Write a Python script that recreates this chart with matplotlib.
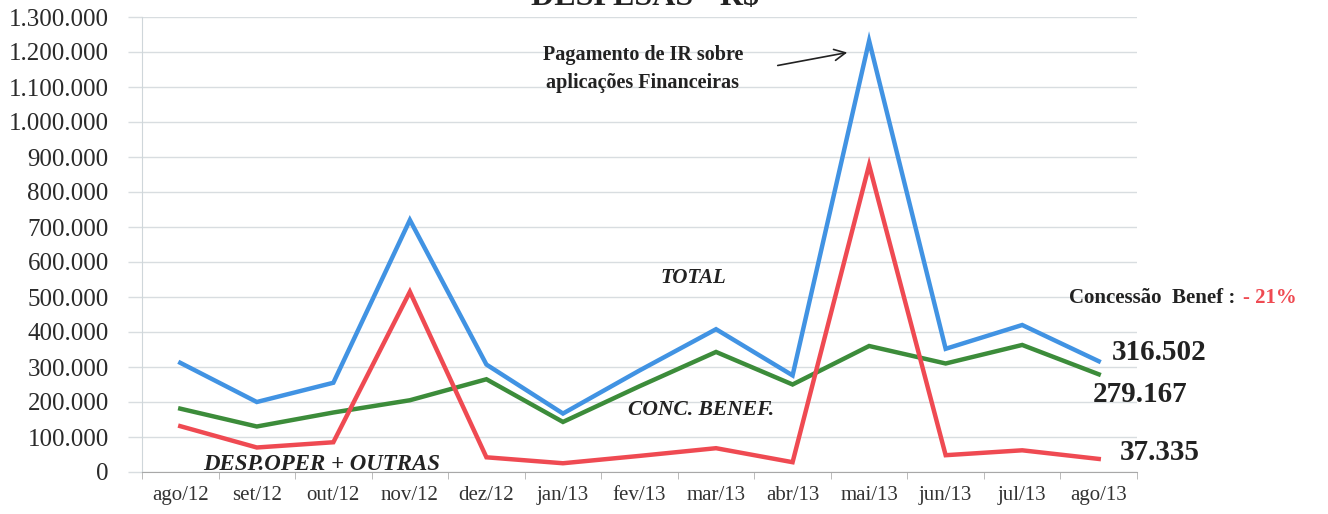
import matplotlib
matplotlib.use("Agg")
import matplotlib.pyplot as plt
from matplotlib.ticker import FuncFormatter, FixedLocator

months = ["ago/12", "set/12", "out/12", "nov/12", "dez/12", "jan/13", "fev/13",
          "mar/13", "abr/13", "mai/13", "jun/13", "jul/13", "ago/13"]
total = [312000, 200000, 255000, 720000, 307000, 167000, 290000,
         408000, 276000, 1232000, 352000, 420000, 316502]
conc_benef = [181000, 130000, 170000, 205000, 265000, 143000, 245000,
              343000, 250000, 360000, 310000, 363000, 279167]
desp_oper = [131000, 70000, 85000, 515000, 42000, 25000, 46000,
             68000, 28000, 877000, 48000, 62000, 37335]
yticks = list(range(0, 1300001, 100000))

plt.rcParams['font.family'] = ['Liberation Serif', 'DejaVu Serif']

fig = plt.figure(figsize=(13.28, 5.14), dpi=100)
ax = fig.add_axes([142/1328, 42/514, (1137-142)/1328, (472-17)/514])

x = list(range(len(months)))
blue = "#4193e3"
green = "#3c8c3a"
red = "#ef4a52"
ax.plot(x, total, color=blue, lw=3.2, solid_joinstyle='miter', zorder=3)
ax.plot(x, conc_benef, color=green, lw=3.2, solid_joinstyle='miter', zorder=3)
ax.plot(x, desp_oper, color=red, lw=3.2, solid_joinstyle='miter', zorder=4)

ax.set_xlim(-0.5, len(months) - 0.5)
ax.set_ylim(0, 1300000)
ax.set_yticks(yticks)
ax.yaxis.set_major_formatter(FuncFormatter(lambda v, p: f"{int(v):,}".replace(",", ".")))
ax.set_xticks(x)
ax.set_xticklabels(months)
ax.xaxis.set_minor_locator(FixedLocator([i - 0.5 for i in range(len(months) + 1)]))
ax.tick_params(axis='x', which='major', length=0, labelsize=15, colors='#333333', pad=10)
ax.tick_params(axis='x', which='minor', length=5, color='#b0b0b0')
ax.tick_params(axis='y', length=10, width=1.0, color='#d8dde0', labelsize=18,
               labelcolor='#2a2a2a', pad=14)

ax.grid(axis='y', color='#d8dde0', lw=1.0)
ax.set_axisbelow(True)
for s in ['top', 'right']:
    ax.spines[s].set_visible(False)
ax.spines['left'].set_color('#cfd6da')
ax.spines['bottom'].set_color('#a8a8a8')

# Title (cut off at top, as in the reference)
fig.text(645/1328, 1 - 5/514, "DESPESAS - R$", ha='center', va='baseline',
         fontsize=23, fontweight='bold', color='#222222')

# Annotation
fig.text(643/1328, 1 - 69/514, "Pagamento de IR sobre\naplicações Financeiras",
         ha='center', va='center', fontsize=14.5, fontweight='bold', color='#222222',
         linespacing=1.55)
fig.add_artist(matplotlib.patches.FancyArrowPatch(
    (775/1328, 1 - 66/514), (850/1328, 1 - 52/514), transform=fig.transFigure,
    arrowstyle='->', mutation_scale=20, color='#222222', lw=1.2))

ax.text(6.7, 555000, "TOTAL", fontsize=15, fontweight='bold', fontstyle='italic',
        ha='center', va='center', color='#222222')
ax.text(6.8, 178000, "CONC. BENEF.", fontsize=15.5, fontweight='bold', fontstyle='italic',
        ha='center', va='center', color='#222222')
ax.text(1.85, 20000, "DESP.OPER + OUTRAS", fontsize=16.5, fontweight='bold', fontstyle='italic',
        ha='center', va='center', color='#222222')

fig.text(1235/1328, 1 - 298/514, "Concessão  Benef :", ha='right', va='center',
         fontsize=15, fontweight='bold', color='#222222')
fig.text(1243/1328, 1 - 298/514, "- 21%", ha='left', va='center',
         fontsize=15, fontweight='bold', color=red)

fig.text(1159/1328, 1 - 352/514, "316.502", ha='center', va='center',
         fontsize=21, fontweight='bold', color='#222222')
fig.text(1140/1328, 1 - 395/514, "279.167", ha='center', va='center',
         fontsize=21, fontweight='bold', color='#222222')
fig.text(1160/1328, 1 - 452/514, "37.335", ha='center', va='center',
         fontsize=21, fontweight='bold', color='#222222')

fig.savefig("out.png", dpi=100)
